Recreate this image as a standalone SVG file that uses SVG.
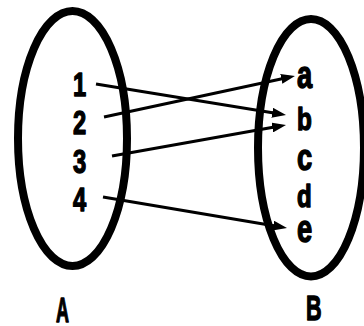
<svg xmlns="http://www.w3.org/2000/svg" width="364" height="326" viewBox="0 0 364 326">
  <style>
    .set { fill: none; stroke: #000; stroke-width: 8; }
    .lbl { font-family: "Liberation Sans", Arial, sans-serif; font-weight: bold; fill: #000; stroke: #000; stroke-width: 1.4; stroke-linejoin: round; }
    .map { stroke: #000; stroke-width: 3; fill: none; marker-end: url(#head); }
  </style>
  <defs>
    <marker id="head" markerUnits="userSpaceOnUse" markerWidth="14" markerHeight="10" refX="8" refY="5" orient="auto">
      <path d="M0,0 L14,5 L0,10 z" fill="#000"/>
    </marker>
  </defs>
  <rect width="364" height="326" fill="#fff"/>

  <!-- domain set A -->
  <g id="setA">
    <ellipse class="set" cx="72.5" cy="138.5" rx="54.5" ry="127.5"/>
    <text class="lbl" font-size="33" transform="translate(73,96) scale(0.72,1)">1</text>
    <text class="lbl" font-size="33" transform="translate(73,134) scale(0.72,1)">2</text>
    <text class="lbl" font-size="33" transform="translate(73,173) scale(0.72,1)">3</text>
    <text class="lbl" font-size="33" transform="translate(73,211) scale(0.72,1)">4</text>
  </g>

  <!-- codomain set B -->
  <g id="setB">
    <ellipse class="set" cx="311" cy="147.75" rx="53" ry="128.75"/>
    <text class="lbl" font-size="38" transform="translate(297,88) scale(0.72,1)">a</text>
    <text class="lbl" font-size="32" transform="translate(297,130) scale(0.76,1)">b</text>
    <text class="lbl" font-size="36" transform="translate(297,170) scale(0.76,1.05)">c</text>
    <text class="lbl" font-size="30" transform="translate(297,207) scale(0.8,1.07)">d</text>
    <text class="lbl" font-size="38" transform="translate(297,242) scale(0.72,1)">e</text>
  </g>

  <!-- set names -->
  <g id="nameA">
    <text class="lbl" font-size="36" transform="translate(56,322) scale(0.5,1)">A</text>
  </g>
  <g id="nameB">
    <text class="lbl" font-size="36" transform="translate(306,320) scale(0.6,1)">B</text>
  </g>

  <!-- mapping arrows -->
  <g id="connectors">
    <line class="map" x1="96" y1="84" x2="280.1" y2="114"/>
    <line class="map" x1="104" y1="117" x2="289.1" y2="77.3"/>
    <line class="map" x1="112" y1="156" x2="280.1" y2="126.1"/>
    <line class="map" x1="103" y1="197" x2="281.1" y2="227"/>
  </g>
</svg>
